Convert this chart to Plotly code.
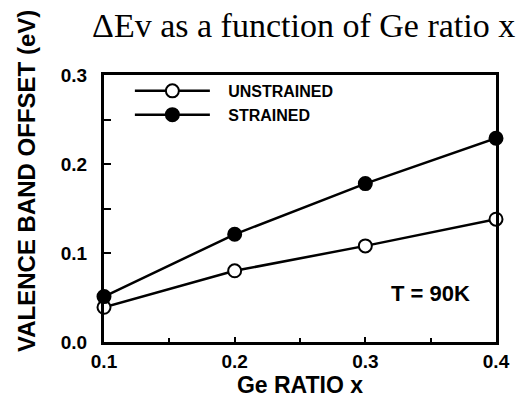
import plotly.graph_objects as go

ge_ratio = [0.1, 0.2, 0.3, 0.4]
unstrained = [0.039, 0.080, 0.108, 0.138]
strained = [0.051, 0.121, 0.178, 0.229]
x_ticks = [0.1, 0.2, 0.3, 0.4]
y_ticks = [0.0, 0.1, 0.2, 0.3]

SANS = "Liberation Sans, Arial, Helvetica"
SERIF = "Liberation Serif, Times New Roman"

fig = go.Figure()
fig.add_trace(go.Scatter(
    x=ge_ratio, y=unstrained, mode="lines+markers", name="&nbsp;&nbsp;&nbsp;UNSTRAINED",
    line=dict(color="black", width=2.5),
    marker=dict(symbol="circle", size=13, color="white", line=dict(color="black", width=2)),
    cliponaxis=False,
))
fig.add_trace(go.Scatter(
    x=ge_ratio, y=strained, mode="lines+markers", name="&nbsp;&nbsp;&nbsp;STRAINED",
    line=dict(color="black", width=2.5),
    marker=dict(symbol="circle", size=13, color="black", line=dict(color="black", width=2)),
    cliponaxis=False,
))

tickfont = dict(family=SANS, size=19, color="black", weight="bold")
fig.update_xaxes(
    range=[0.1, 0.4], tickvals=x_ticks, ticktext=[f"{v:.1f}" for v in x_ticks],
    ticks="inside", ticklen=5, tickwidth=2, tickcolor="black",
    minor=dict(dtick=0.05, ticks="inside", ticklen=4, tickwidth=2, tickcolor="black"),
    showline=True, linecolor="black", linewidth=3, mirror=True,
    showgrid=False, zeroline=False, ticklabelstandoff=0,
    tickfont=tickfont,
    title=dict(text="Ge RATIO x", font=dict(family=SANS, size=23, color="black", weight="bold"), standoff=0),
)
fig.update_yaxes(
    range=[0.0, 0.3], tickvals=y_ticks, ticktext=[f"{v:.1f}" for v in y_ticks],
    ticks="inside", ticklen=7, tickwidth=2, tickcolor="black",
    minor=dict(dtick=0.05, ticks="inside", ticklen=7, tickwidth=2, tickcolor="black"),
    showline=True, linecolor="black", linewidth=3, mirror=True,
    showgrid=False, zeroline=False, ticklabelstandoff=10,
    tickfont=tickfont,
)

L, R, T, B = 96, 39, 67, 68
pw, ph = 527 - L - R, 402 - T - B

# y-axis title (placed slightly above the plot centre, as in the reference)
fig.add_annotation(
    x=(18 - L) / pw, y=1 - (173 - T) / ph, xref="paper", yref="paper", showarrow=False,
    xanchor="center", yanchor="middle",
    text="VALENCE BAND OFFSET (eV)", textangle=-90,
    font=dict(family=SANS, size=24, color="black", weight="bold"),
)

fig.add_annotation(
    x=0.4, y=0.0, xref="x", yref="y", xanchor="right", yanchor="middle",
    xshift=-24, yshift=49, showarrow=False, text="T = 90K",
    font=dict(family=SANS, size=22, color="black", weight="bold"),
)

fig.update_layout(
    width=527, height=402,
    margin=dict(l=L, r=R, t=T, b=B),
    paper_bgcolor="white", plot_bgcolor="white",
    title=dict(text="ΔEv as a function of Ge ratio x", x=0.561, xanchor="center",
               yref="container", y=0.958, yanchor="middle",
               font=dict(family=SERIF, size=34, color="black")),
    legend=dict(x=0.066, y=1.004, xanchor="left", yanchor="top", bgcolor="rgba(0,0,0,0)",
                font=dict(family=SANS, size=16, color="black", weight="bold"),
                itemwidth=75, tracegroupgap=0),
    showlegend=True,
)

fig.write_html("out.html")
